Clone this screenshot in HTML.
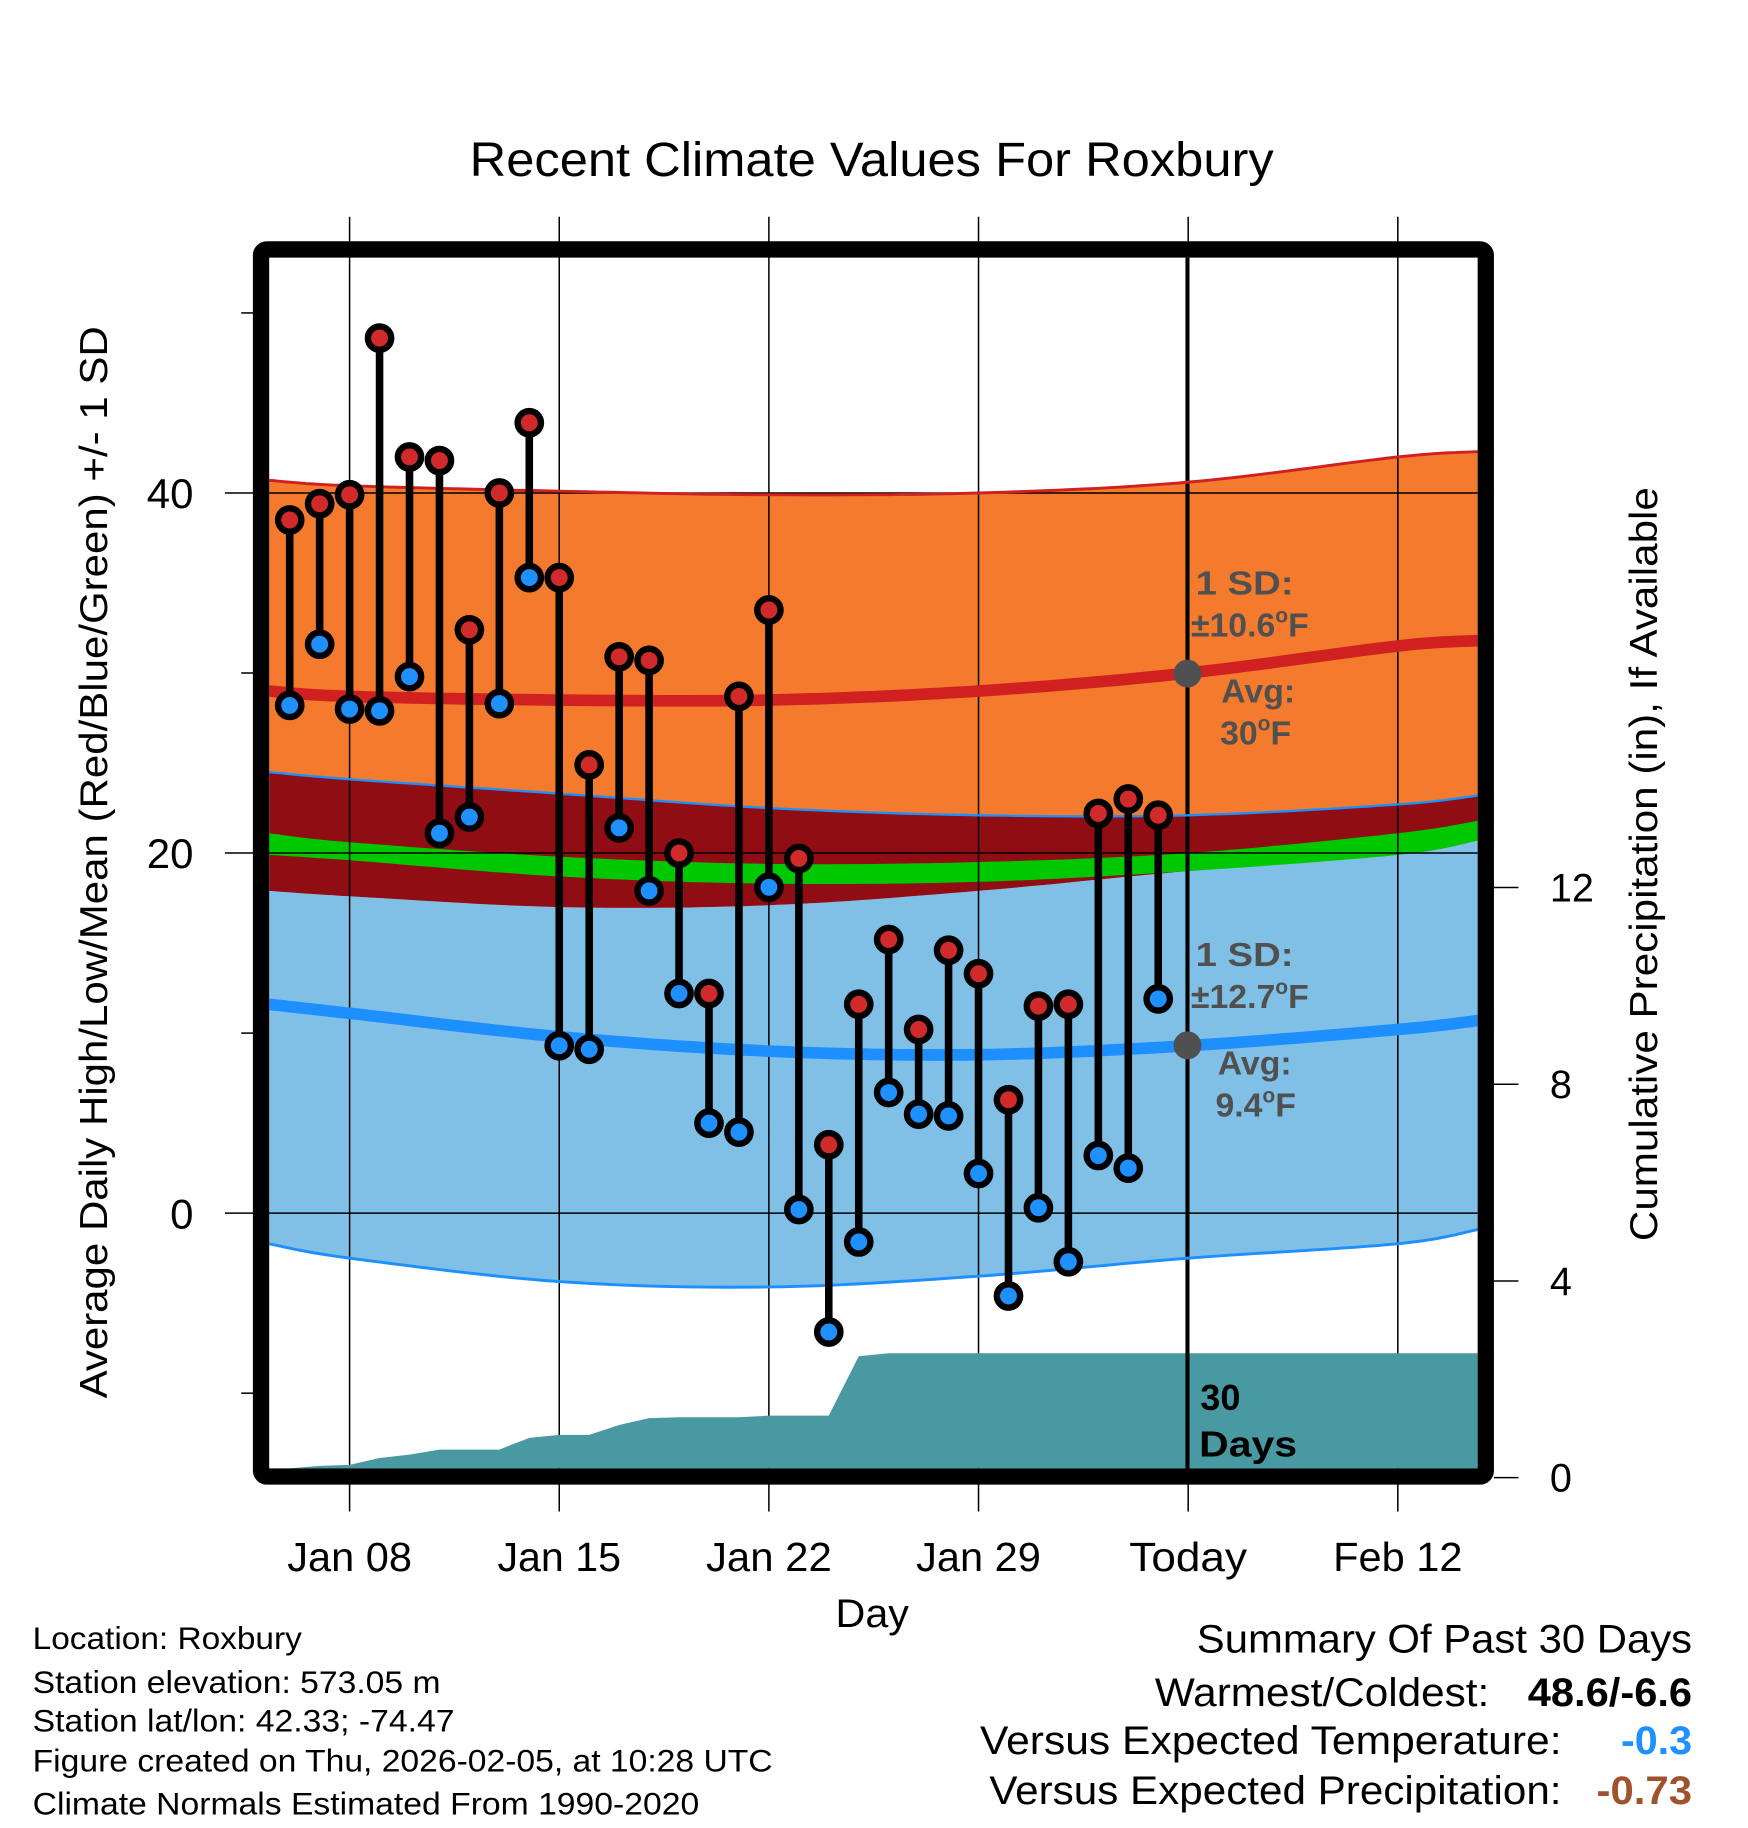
<!DOCTYPE html>
<html><head><meta charset="utf-8"><style>
html,body{margin:0;padding:0;background:#fff;}
svg{display:block;font-family:"Liberation Sans",Arial,sans-serif;}
</style></head><body>
<svg id="chart" width="1748" height="1828" viewBox="0 0 1500 1568.6" xmlns="http://www.w3.org/2000/svg">
<rect width="1500" height="1568.6" fill="#fff"/>
<text x="403" y="151" font-size="41" textLength="690" lengthAdjust="spacingAndGlyphs">Recent Climate Values For Roxbury</text>
<defs><clipPath id="plotclip"><rect x="231" y="221" width="1037" height="1039"/></clipPath></defs>
<g id="bands" clip-path="url(#plotclip)"></g>
<g id="grid"></g>
<g id="precip" clip-path="url(#plotclip)"></g>
<g id="lines" clip-path="url(#plotclip)"></g>
<g id="marks"></g>
<g font-weight="bold" fill="#505050" font-size="29">
  <circle cx="1019" cy="578" r="12" fill="#505050"/>
  <circle cx="1019" cy="897" r="12" fill="#505050"/>
  <text x="1026" y="510" textLength="84" lengthAdjust="spacingAndGlyphs">1 SD:</text>
  <text x="1022" y="546">±10.6<tspan font-size="18" dy="-12">o</tspan><tspan dy="12">F</tspan></text>
  <text x="1048" y="603">Avg:</text>
  <text x="1047" y="639">30<tspan font-size="18" dy="-12">o</tspan><tspan dy="12">F</tspan></text>
  <text x="1026" y="829" textLength="84" lengthAdjust="spacingAndGlyphs">1 SD:</text>
  <text x="1022" y="865">±12.7<tspan font-size="18" dy="-12">o</tspan><tspan dy="12">F</tspan></text>
  <text x="1045" y="922">Avg:</text>
  <text x="1043" y="958">9.4<tspan font-size="18" dy="-12">o</tspan><tspan dy="12">F</tspan></text>
  <text x="1030" y="1210" fill="#000" font-size="31">30</text>
  <text x="1029" y="1250" fill="#000" font-size="31" textLength="84" lengthAdjust="spacingAndGlyphs">Days</text>
</g>
<rect x="224" y="214" width="1051" height="1053" rx="5" fill="none" stroke="#000" stroke-width="14"/>
<g id="axes"></g>
<text transform="translate(92,1200) rotate(-90)" font-size="33" textLength="920" lengthAdjust="spacingAndGlyphs">Average Daily High/Low/Mean (Red/Blue/Green) +/- 1 SD</text>
<text transform="translate(1422,1065) rotate(-90)" font-size="33" textLength="647" lengthAdjust="spacingAndGlyphs">Cumulative Precipitation (in), If Available</text>
<text x="717" y="1396" font-size="34" textLength="63" lengthAdjust="spacingAndGlyphs">Day</text>
<g font-size="27">
  <text x="28" y="1415" textLength="231" lengthAdjust="spacingAndGlyphs">Location: Roxbury</text>
  <text x="28" y="1453" textLength="350" lengthAdjust="spacingAndGlyphs">Station elevation: 573.05 m</text>
  <text x="28" y="1486" textLength="362" lengthAdjust="spacingAndGlyphs">Station lat/lon: 42.33; -74.47</text>
  <text x="28" y="1520" textLength="635" lengthAdjust="spacingAndGlyphs">Figure created on Thu, 2026-02-05, at 10:28 UTC</text>
  <text x="28" y="1557" textLength="572" lengthAdjust="spacingAndGlyphs">Climate Normals Estimated From 1990-2020</text>
</g>
<g font-size="34">
  <text x="1027" y="1418" textLength="425" lengthAdjust="spacingAndGlyphs">Summary Of Past 30 Days</text>
  <text x="991" y="1464" textLength="287" lengthAdjust="spacingAndGlyphs">Warmest/Coldest:</text>
  <text x="1311" y="1464" font-weight="bold" textLength="141" lengthAdjust="spacingAndGlyphs">48.6/-6.6</text>
  <text x="841" y="1505" textLength="499" lengthAdjust="spacingAndGlyphs">Versus Expected Temperature:</text>
  <text x="1391" y="1505" font-weight="bold" fill="#1e90ff" textLength="61" lengthAdjust="spacingAndGlyphs">-0.3</text>
  <text x="849" y="1548" textLength="491" lengthAdjust="spacingAndGlyphs">Versus Expected Precipitation:</text>
  <text x="1370" y="1548" font-weight="bold" fill="#a0522d" textLength="82" lengthAdjust="spacingAndGlyphs">-0.73</text>
</g>
</svg>
<script>
// day index: Jan 1 = 1, Feb 5 (today) = 36
const days = [6,7,8,9,10,11,12,13,14,15,16,17,18,19,20,21,22,23,24,25,26,27,28,29,30,31,32,33,34,35];
const highs = [38.5,39.4,39.9,48.6,42.0,41.8,32.4,40.0,43.9,35.3,24.9,30.9,30.7,20.0,12.2,28.7,33.5,19.7,3.8,11.6,15.2,10.2,14.6,13.3,6.3,11.5,11.6,22.2,23.0,22.1];
const lows = [28.2,31.6,28.0,27.9,29.8,21.1,22.0,28.3,35.3,9.3,9.1,21.4,17.9,12.2,5.0,4.5,18.1,0.2,-6.6,-1.6,6.7,5.5,5.4,2.2,-4.6,0.3,-2.7,3.2,2.5,11.9];
const precip = [0.19,0.24,0.26,0.40,0.47,0.57,0.57,0.57,0.81,0.87,0.87,1.07,1.21,1.23,1.23,1.23,1.26,1.26,1.26,2.47,2.53,2.53,2.53,2.53,2.53,2.53,2.53,2.53,2.53,2.53];
const normDays = [5.3,8,15,22,29,36,43,45.7];
const highPlus = [40.7,40.4,40.1,39.9,40.0,40.6,42.0,42.3];
const highAvg = [29.0,28.7,28.5,28.5,29.0,30.0,31.5,31.8];
const highMinus = [24.5,24.1,23.3,22.5,22.1,22.1,22.7,23.2];
const meanTop = [21.1,20.6,19.8,19.4,19.5,20.0,21.1,21.8];
const meanBot = [19.9,19.6,18.7,18.3,18.4,19.0,19.9,20.7];
const lowPlus = [17.9,17.6,17.0,17.1,17.9,19.0,19.9,20.7];
const lowAvg = [11.6,11.1,9.8,9.0,8.8,9.3,10.2,10.7];
const lowMinus = [-1.7,-2.5,-3.8,-4.1,-3.5,-2.5,-1.7,-0.9];
const xTickDays = [8,15,22,29,36,43];
const xTickLabels = ["Jan 08","Jan 15","Jan 22","Jan 29","Today","Feb 12"];
const yTicks = [40,20,0];
const yMinor = [50,30,10,-10];
const y2Ticks = [0,4,8,12];

const NS="http://www.w3.org/2000/svg";
function xS(d){return 300+(d-8)*25.7;}
function yS(v){return 1041-v*15.45;}
function y2S(v){return 1268-v*42.2;}
function mk(tag,attrs,parent){const e=document.createElementNS(NS,tag);for(const k in attrs)e.setAttribute(k,attrs[k]);parent.appendChild(e);return e;}
// smooth (Catmull-Rom) sampling of a normals curve
function pts(ds,vs){
  const P=ds.map((d,i)=>[xS(d),yS(vs[i])]);
  const out=[];
  for(let i=0;i<P.length-1;i++){
    const p0=P[Math.max(i-1,0)],p1=P[i],p2=P[i+1],p3=P[Math.min(i+2,P.length-1)];
    for(let s=0;s<16;s++){
      const t=s/16,t2=t*t,t3=t2*t;
      const f=(a,b,c,d)=>0.5*((2*b)+(-a+c)*t+(2*a-5*b+4*c-d)*t2+(-a+3*b-3*c+d)*t3);
      out.push(f(p0[0],p1[0],p2[0],p3[0]).toFixed(1)+","+f(p0[1],p1[1],p2[1],p3[1]).toFixed(1));
    }
  }
  const L=P[P.length-1];out.push(L[0].toFixed(1)+","+L[1].toFixed(1));
  return out;
}
function band(top,bot,fill,parent,name){
  const p=pts(normDays,top).concat(pts(normDays,bot).reverse());
  const e=mk('polygon',{points:p.join(' '),fill:fill},parent);
  
  
}
function line(vs,stroke,w,parent,name){
  const e=mk('polyline',{points:pts(normDays,vs).join(' '),fill:'none',stroke:stroke,'stroke-width':w},parent);
  
  
}
const bands=document.getElementById('bands');
band(highPlus,highMinus,'#f47a2e',bands,'high-sd-band');
band(lowPlus,lowMinus,'#80c0e6',bands,'low-sd-band');
band(highMinus,lowPlus,'#910d14',bands,'overlap-band');
band(meanTop,meanBot,'#00c800',bands,'mean-band');
const lines=document.getElementById('lines');
line(highPlus,'#d02020',2.5,lines,'high-plus-line');
line(highMinus,'#1e8fff',2,lines,'high-minus-line');
line(lowMinus,'#1e8fff',2.5,lines,'low-minus-line');
line(highAvg,'#d02020',10,lines,'high-avg-line');
line(lowAvg,'#1e8fff',10,lines,'low-avg-line');

const grid=document.getElementById('grid');
xTickDays.forEach((d,i)=>{
  const l=mk('line',{x1:xS(d),x2:xS(d),y1:186,y2:1297,stroke:'#000','stroke-width':1.3},grid);
  
  
});
yTicks.forEach(v=>{
  const l=mk('line',{x1:193,x2:1268,y1:yS(v),y2:yS(v),stroke:'#000','stroke-width':1.3},grid);
  
  
});

const pr=document.getElementById('precip');
let pp=[xS(days[0])+","+y2S(0)];
days.forEach((d,i)=>pp.push(xS(d).toFixed(1)+","+y2S(precip[i]).toFixed(1)));
pp.push("1270,"+y2S(precip[precip.length-1]).toFixed(1));
pp.push("1270,"+y2S(0));
const pa=mk('polygon',{points:pp.join(' '),fill:'#4899a2'},pr);



const tl=mk('line',{x1:1019,x2:1019,y1:221,y2:1262,stroke:'#000','stroke-width':3.5},pr);



const marks=document.getElementById('marks');
days.forEach((d,i)=>{
  const x=xS(d);
  const s=mk('line',{x1:x,x2:x,y1:yS(highs[i]),y2:yS(lows[i]),stroke:'#000','stroke-width':6.5},marks);
  
  
});
days.forEach((d,i)=>{
  const x=xS(d);
  const h=mk('circle',{cx:x,cy:yS(highs[i]),r:10,fill:'#d12a2a',stroke:'#000','stroke-width':5.5},marks);
  
  
  const l=mk('circle',{cx:x,cy:yS(lows[i]),r:10,fill:'#1e90ff',stroke:'#000','stroke-width':5.5},marks);
  
  
});

const axes=document.getElementById('axes');
const xTickWidths=[107,106,108,107,101,111];
xTickDays.forEach((d,i)=>{
  const t=mk('text',{x:xS(d),y:1348,'font-size':35,'text-anchor':'middle',textLength:xTickWidths[i],lengthAdjust:'spacingAndGlyphs'},axes);
  t.textContent=xTickLabels[i];
  
  
});
yTicks.forEach(v=>{
  const t=mk('text',{x:166,y:yS(v)+13,'font-size':36,'text-anchor':'end'},axes);
  t.textContent=v;
  
  
});
yMinor.forEach(v=>{
  const l=mk('line',{x1:207,x2:220,y1:yS(v),y2:yS(v),stroke:'#000','stroke-width':1.3},axes);
  
  
});
y2Ticks.forEach(v=>{
  const l=mk('line',{x1:1282,x2:1303,y1:y2S(v),y2:y2S(v),stroke:'#000','stroke-width':1.3},axes);
  
  
  const t=mk('text',{x:1330,y:y2S(v)+12,'font-size':34},axes);
  t.textContent=v;
  
  
});
</script>
</body></html>
